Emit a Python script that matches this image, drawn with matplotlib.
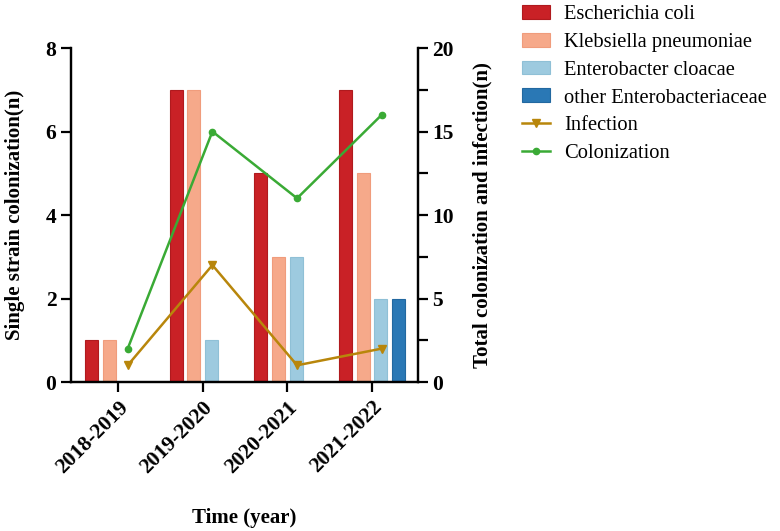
import numpy as np
import matplotlib.pyplot as plt
from matplotlib.ticker import MultipleLocator

plt.rcParams['font.family'] = ['Liberation Serif', 'DejaVu Serif']

years = ['2018-2019', '2019-2020', '2020-2021', '2021-2022']
species = ['Escherichia coli', 'Klebsiella pneumoniae',
           'Enterobacter cloacae', 'other Enterobacteriaceae']
strain_counts = [
    [1, 7, 5, 7],   # Escherichia coli
    [1, 7, 3, 5],   # Klebsiella pneumoniae
    [0, 1, 3, 2],   # Enterobacter cloacae
    [0, 0, 0, 2],   # other Enterobacteriaceae
]
infection = [1, 7, 1, 2]
colonization = [2, 15, 11, 16]

bar_colors = ['#C92126', '#F6A98A', '#9DCADF', '#2A78B5']
edge_colors = ['#B01A1E', '#F09C7C', '#8FC0D6', '#2268A0']
inf_color = '#B8860B'
col_color = '#3AAA35'

x = np.arange(len(years))
slot = 0.209
width = 0.155

fig = plt.figure(figsize=(7.8, 5.31), dpi=100)
ax = fig.add_axes([0.091, 0.2806, 0.4449, 0.6290])
ax2 = ax.twinx()

for i, (name, vals) in enumerate(zip(species, strain_counts)):
    ax.bar(x + (i - 1.5) * slot, vals, width, color=bar_colors[i],
           edgecolor=edge_colors[i], linewidth=0.8, label=name, zorder=2)

ax2.plot(x + 0.115, infection, color=inf_color, marker='v', markersize=6,
         linewidth=1.8, label='Infection')
ax2.plot(x + 0.115, colonization, color=col_color, marker='o', markersize=4.5,
         linewidth=1.8, label='Colonization')

ax.set_xlim(-0.555, 3.543)
ax.set_ylim(0, 8)
ax2.set_ylim(0, 20)
ax.yaxis.set_major_locator(MultipleLocator(2))
ax2.yaxis.set_major_locator(MultipleLocator(5))
ax2.yaxis.set_minor_locator(MultipleLocator(2.5))

ax.set_xticks(x)
ax.set_xticklabels(years, rotation=45, ha='right', rotation_mode='anchor',
                   fontsize=15.5, fontweight='bold')
for a in (ax, ax2):
    for s in a.spines.values():
        s.set_linewidth(1.6)
    a.spines['top'].set_visible(False)
    a.tick_params(width=1.6, length=7, labelsize=15.5)
    for lbl in a.get_yticklabels():
        lbl.set_fontweight('bold')
ax2.tick_params(which='minor', width=1.6, length=7)
ax.tick_params(axis='x', pad=4)

ax.set_ylabel('Single strain colonization(n)', fontsize=15, fontweight='bold',
              labelpad=14.5)
ax2.set_ylabel('Total colonization and infection(n)', fontsize=15,
               fontweight='bold', labelpad=13.5)
ax.set_xlabel('Time (year)', fontsize=15, fontweight='bold', labelpad=22)

h1, l1 = ax.get_legend_handles_labels()
h2, l2 = ax2.get_legend_handles_labels()
fig.legend(h1 + h2, l1 + l2, loc='upper left', bbox_to_anchor=(0.669, 0.99),
           frameon=False, fontsize=14.8, handlelength=1.35, handleheight=0.65,
           labelspacing=0.42, handletextpad=0.7, borderpad=0, borderaxespad=0)

fig.savefig('out.png', dpi=100)
